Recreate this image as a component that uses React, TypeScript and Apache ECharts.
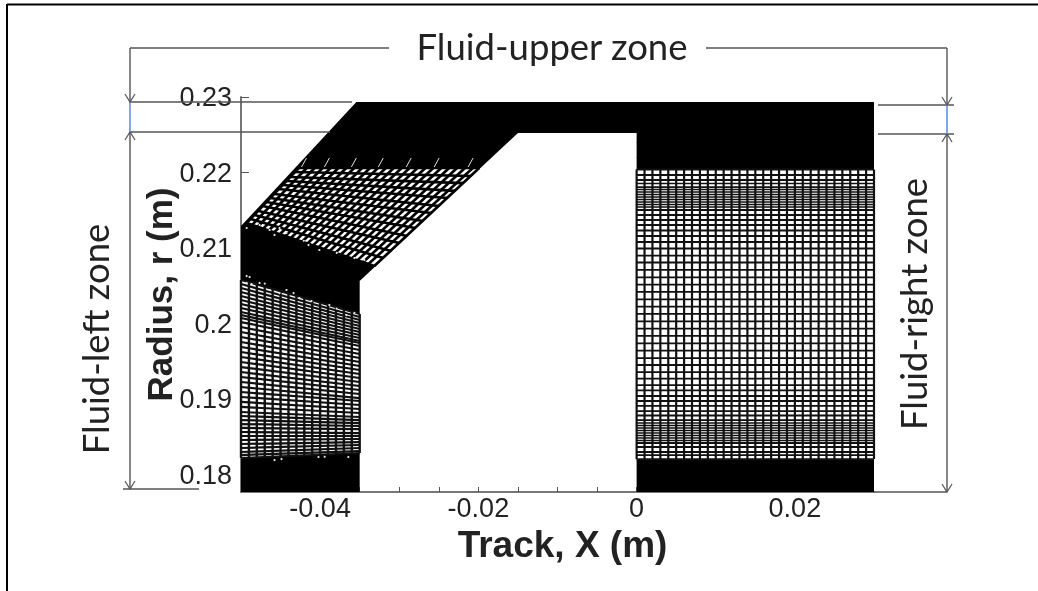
import React, { useEffect, useRef } from "react";
import * as echarts from "echarts";

// Axis ticks and labels
const radiusLabels = [0.18, 0.19, 0.2, 0.21, 0.22, 0.23];
const radiusMinorTicks = [0.178, 0.182, 0.184, 0.186, 0.188, 0.192, 0.194, 0.196, 0.198, 0.202, 0.204, 0.206, 0.208, 0.212, 0.214, 0.216, 0.218, 0.222, 0.224, 0.226, 0.228];
const trackLabels = [-0.04, -0.02, 0, 0.02];
const trackTicks = [-0.035, -0.03, -0.025, -0.02, -0.015, -0.01, -0.005, 0];

// Fluid domain outline [track, radius]
const fluidOutline = [[-0.05, 0.17775], [-0.035, 0.17775], [-0.035, 0.20566], [-0.015, 0.22524], [0, 0.22524], [0, 0.17775], [0.03, 0.17775], [0.03, 0.22934], [-0.03542, 0.22934], [-0.05, 0.21294]];
const rightOpen = [[0, 0.18211], [0.03, 0.18211], [0.03, 0.22041], [0, 0.22041]];
const leftOpen = [[-0.05, 0.18225], [-0.035, 0.18291], [-0.035, 0.2013], [-0.05, 0.20579]];
const upperOpen = [[-0.04273, 0.22061], [-0.01992, 0.22061], [-0.03315, 0.20765], [-0.04929, 0.21333]];

// Right block mesh: rows in the open middle, rows in the fine bands, columns
const rightRowsOpen = [0.22041, 0.21968, 0.21902, 0.21809, 0.21505, 0.21439, 0.21373, 0.21307, 0.21234, 0.21161, 0.21082, 0.20996, 0.20903, 0.20811, 0.20712, 0.20615, 0.20518, 0.20421, 0.20324, 0.20227, 0.2013, 0.20033, 0.19936, 0.19839, 0.19742, 0.19645, 0.19547, 0.19455, 0.19362, 0.19276, 0.1919, 0.19118, 0.19045, 0.18979, 0.18913, 0.18846, 0.18787, 0.18727, 0.18423, 0.1837, 0.18304, 0.18264, 0.18211];
const rightRowsFine = [0.21856, 0.21776, 0.21743, 0.2171, 0.21677, 0.21644, 0.21611, 0.21578, 0.21545, 0.18688, 0.18655, 0.18622, 0.18589, 0.18555, 0.18522, 0.18489, 0.18456];
const rightColumns = [0, 0.001, 0.002, 0.003, 0.004, 0.005, 0.006, 0.007, 0.008, 0.009, 0.01, 0.011, 0.012, 0.013, 0.014, 0.015, 0.016, 0.017, 0.018, 0.019, 0.02, 0.021, 0.022, 0.023, 0.024, 0.025, 0.026, 0.027, 0.028, 0.029, 0.03];

// Left lower block mesh
const leftRowStart = [0.20579, 0.20526, 0.20473, 0.2042, 0.20367, 0.20315, 0.20262, 0.20209, 0.20156, 0.20116, 0.20077, 0.20023, 0.19957, 0.19891, 0.19825, 0.19759, 0.19693, 0.19627, 0.19561, 0.19495, 0.19428, 0.19362, 0.19296, 0.1923, 0.19164, 0.19098, 0.19032, 0.18966, 0.189, 0.18833, 0.1878, 0.18727, 0.18674, 0.18622, 0.18569, 0.18516, 0.18463, 0.1841, 0.18357, 0.18304, 0.18264, 0.18225];
const leftRowEnd = [0.2013, 0.2009, 0.2005, 0.2001, 0.19971, 0.19931, 0.19891, 0.19852, 0.19812, 0.19772, 0.19746, 0.19706, 0.19653, 0.196, 0.19547, 0.19495, 0.19442, 0.19389, 0.19336, 0.19283, 0.1923, 0.19177, 0.19124, 0.19071, 0.19018, 0.18979, 0.18926, 0.18873, 0.1882, 0.18767, 0.18727, 0.18687, 0.18648, 0.18608, 0.18555, 0.18516, 0.18476, 0.18436, 0.18397, 0.18357, 0.18317, 0.18291];
const leftColumns = [-0.05, -0.049, -0.048, -0.047, -0.046, -0.045, -0.044, -0.043, -0.042, -0.041, -0.04, -0.039, -0.038, -0.037, -0.036, -0.035];
const leftColumnTop = [0.20579, 0.20549, 0.20519, 0.20489, 0.20459, 0.20429, 0.20399, 0.20369, 0.20339, 0.20309, 0.20279, 0.20249, 0.20219, 0.2019, 0.2016, 0.2013];
const leftColumnBottom = [0.18225, 0.18229, 0.18234, 0.18238, 0.18243, 0.18247, 0.18251, 0.18256, 0.1826, 0.18265, 0.18269, 0.18273, 0.18278, 0.18282, 0.18287, 0.18291];

// Slanted upper block mesh
const upperRowStartX = [-0.04273, -0.04324, -0.04374, -0.04425, -0.04475, -0.04525, -0.04576, -0.04626, -0.04677, -0.04727, -0.04777, -0.04828, -0.04878, -0.04929];
const upperRowStartR = [0.22061, 0.22008, 0.21942, 0.21889, 0.21836, 0.21783, 0.21717, 0.21664, 0.21611, 0.21558, 0.21492, 0.21439, 0.21386, 0.21333];
const upperRowEndX = [-0.01992, -0.02093, -0.02193, -0.02294, -0.02395, -0.02496, -0.02597, -0.02698, -0.02798, -0.02899, -0.03, -0.03101, -0.03202, -0.03315];
const upperRowEndR = [0.22061, 0.21955, 0.21862, 0.21757, 0.21664, 0.21558, 0.21466, 0.2136, 0.21267, 0.21161, 0.21069, 0.20963, 0.2087, 0.20765];
const upperColTopX = [-0.0427, -0.0417, -0.0407, -0.0397, -0.0387, -0.0377, -0.0367, -0.0357, -0.0347, -0.0337, -0.0327, -0.0317, -0.0307, -0.0297, -0.0287, -0.0277, -0.0267, -0.0257, -0.0247, -0.0237, -0.0227, -0.0217, -0.0207, -0.0199];
const upperColTopR = 0.22061;
const upperColBottomX = [-0.04929, -0.04859, -0.04789, -0.04719, -0.04649, -0.04579, -0.04509, -0.04439, -0.04369, -0.04299, -0.04229, -0.04159, -0.04089, -0.04019, -0.03949, -0.03879, -0.03809, -0.03739, -0.03669, -0.03599, -0.03529, -0.03459, -0.03389, -0.03315];
const upperColBottomR = [0.21333, 0.21308, 0.21284, 0.21259, 0.21234, 0.2121, 0.21185, 0.2116, 0.21135, 0.21111, 0.21086, 0.21061, 0.21037, 0.21012, 0.20987, 0.20963, 0.20938, 0.20913, 0.20888, 0.20864, 0.20839, 0.20814, 0.2079, 0.20765];

// White hook marks above the slanted block [x1, r1, x2, r2]
const hookMarks = [[-0.04235, 0.22074, -0.04172, 0.22193], [-0.03946, 0.22074, -0.03883, 0.22193], [-0.03605, 0.22074, -0.03542, 0.22193], [-0.03265, 0.22074, -0.03202, 0.22193], [-0.02912, 0.22074, -0.02849, 0.22193], [-0.02559, 0.22074, -0.02496, 0.22193], [-0.0213, 0.22074, -0.02067, 0.22193]];

// Stray mesh nodes visible inside the black bands [x, r]
const strayNodes = [[-0.04929, 0.20632], [-0.04891, 0.20619], [-0.04929, 0.2054], [-0.04866, 0.20526], [-0.04765, 0.2054], [-0.04702, 0.2054], [-0.04425, 0.20447], [-0.04336, 0.20407], [-0.04639, 0.20447], [-0.04513, 0.20407], [-0.04261, 0.20341], [-0.04109, 0.20301], [-0.03883, 0.20249], [-0.03794, 0.20209], [-0.03668, 0.20116], [-0.03567, 0.20143], [-0.04576, 0.18198], [-0.04488, 0.18211], [-0.04021, 0.18238], [-0.03946, 0.18251], [-0.03643, 0.18238], [-0.04929, 0.21267], [-0.04765, 0.21307], [-0.04639, 0.21241], [-0.04576, 0.21175], [-0.04513, 0.21267], [-0.04425, 0.21201], [-0.0421, 0.21108], [-0.04147, 0.21042], [-0.04009, 0.20976], [-0.03794, 0.2095], [-0.03567, 0.2087], [-0.03441, 0.20844]];

const rows = (list: number[]) => list.map((r) => [0, r, 0.03, r]);
const rightColumnSegments = rightColumns.map((x) => [x, 0.18211, x, 0.22041]);
const leftRowSegments = leftRowStart.map((r, i) => [-0.05, r, -0.035, leftRowEnd[i]]);
const leftColumnSegments = leftColumns.map((x, i) => [x, leftColumnTop[i], x, leftColumnBottom[i]]);
const upperSegments = [
  ...upperRowStartX.map((x, i) => [x, upperRowStartR[i], upperRowEndX[i], upperRowEndR[i]]),
  ...upperColTopX.map((x, i) => [x, upperColTopR, upperColBottomX[i], upperColBottomR[i]]),
];

const polygonSeries = (points: number[][], fill: string) => ({
  type: "custom",
  coordinateSystem: "cartesian2d",
  silent: true,
  data: [points[0]],
  renderItem: (_: any, api: any) => ({
    type: "polygon",
    shape: { points: points.map((p) => api.coord(p)) },
    style: { fill, stroke: "none" },
  }),
});

const segmentSeries = (data: number[][], stroke: string, lineWidth: number) => ({
  type: "custom",
  coordinateSystem: "cartesian2d",
  silent: true,
  data,
  renderItem: (_: any, api: any) => {
    const a = api.coord([api.value(0), api.value(1)]);
    const b = api.coord([api.value(2), api.value(3)]);
    return {
      type: "line",
      shape: { x1: a[0], y1: a[1], x2: b[0], y2: b[1] },
      style: { stroke, lineWidth },
    };
  },
});

const dotSeries = (data: number[][]) => ({
  type: "custom",
  coordinateSystem: "cartesian2d",
  silent: true,
  data,
  renderItem: (_: any, api: any) => {
    const c = api.coord([api.value(0), api.value(1)]);
    return { type: "circle", shape: { cx: c[0], cy: c[1], r: 1.1 }, style: { fill: "#e0e0e0" } };
  },
});

const ink = "#555555";
const rule = (x1: number, y1: number, x2: number, y2: number, stroke = ink, lineWidth = 1.4) => ({
  type: "line",
  shape: { x1, y1, x2, y2 },
  style: { stroke, lineWidth },
  z: 20,
});
const head = (x: number, y: number, dir: number) => ({
  type: "polyline",
  shape: { points: [[x - 5, y - 8 * dir], [x, y], [x + 5, y - 8 * dir]] },
  style: { stroke: ink, lineWidth: 1.2, fill: "none" },
  z: 20,
});
const zoneText = (text: string, x: number, y: number, rotation: number) => ({
  type: "text",
  x,
  y,
  rotation,
  z: 21,
  style: {
    text,
    fill: "#222222",
    font: "36.5px Lato, sans-serif",
    align: "center",
    verticalAlign: "middle",
  },
});

export default function App() {
  const ref = useRef<HTMLDivElement>(null);
  useEffect(() => {
    document.body.style.margin = "0";
    const chart = echarts.init(ref.current!, undefined, { renderer: "svg" });
    chart.setOption({
      animation: false,
      backgroundColor: "#ffffff",
      grid: { left: 241, top: 97, width: 633, height: 395 },
      xAxis: {
        type: "value",
        min: -0.05,
        max: 0.03,
        splitLine: { show: false },
        axisLine: { onZero: false, lineStyle: { color: "#777777", width: 2 } },
        axisTick: { inside: true, length: 5, lineStyle: { color: "#555555" }, customValues: trackTicks },
        axisLabel: { customValues: trackLabels, margin: 2, color: "#222222", fontFamily: "Liberation Sans", fontSize: 27 },
        name: "Track, X (m)",
        nameLocation: "middle",
        nameGap: 33,
        nameTextStyle: { fontFamily: "Liberation Sans", fontWeight: "bold", fontSize: 37, color: "#222222", padding: [0, 0, 0, 10] },
      },
      yAxis: [
        {
          type: "value",
          min: 0.17775,
          max: 0.23,
          splitLine: { show: false },
          axisLine: { onZero: false, lineStyle: { color: "#777777", width: 2 } },
          axisTick: { show: true, inside: true, length: 8, lineStyle: { color: "#555555" }, customValues: radiusLabels },
          axisLabel: { customValues: radiusLabels, margin: 9, color: "#222222", fontFamily: "Liberation Sans", fontSize: 27 },
          name: "Radius, r (m)",
          nameLocation: "middle",
          nameMoveOverlap: false,
          nameGap: 64,
          nameTextStyle: { fontFamily: "Liberation Sans", fontWeight: "bold", fontSize: 35, color: "#222222" },
        },
        {
          type: "value",
          min: 0.17775,
          max: 0.23,
          position: "left",
          splitLine: { show: false },
          axisLine: { show: false },
          axisTick: { show: true, inside: true, length: 5, lineStyle: { color: "#555555" }, customValues: radiusMinorTicks },
          axisLabel: { show: false },
        },
      ],
      series: [
        polygonSeries(fluidOutline, "#000000"),
        polygonSeries(rightOpen, "#ffffff"),
        polygonSeries(leftOpen, "#ffffff"),
        polygonSeries(upperOpen, "#ffffff"),
        segmentSeries(rows(rightRowsOpen), "#111111", 1.8),
        segmentSeries(rows(rightRowsFine), "#111111", 1.4),
        segmentSeries(rightColumnSegments, "#111111", 2.2),
        segmentSeries(leftRowSegments, "#111111", 2.2),
        segmentSeries(leftColumnSegments, "#111111", 2.4),
        segmentSeries(upperSegments, "#000000", 2.7),
        segmentSeries(hookMarks, "#e0e0e0", 1),
        dotSeries(strayNodes),
      ],
      graphic: [
        rule(7, 4.5, 1038, 4.5, "#000000", 2),
        rule(7, 4, 7, 591, "#000000", 2),
        rule(130, 48, 389, 48),
        rule(706, 48, 947, 48),
        rule(130, 48, 130, 102),
        rule(947, 48, 947, 105),
        rule(130, 102, 352, 102),
        rule(130, 132, 330, 132),
        rule(130, 102, 130, 132, "#7fa8e8", 2),
        rule(130, 132, 130, 489),
        rule(123, 489, 199, 489),
        rule(878, 105, 954, 105),
        rule(878, 134, 954, 134),
        rule(947, 105, 947, 134, "#7fa8e8", 2),
        rule(947, 134, 947, 492),
        rule(874, 492, 947, 492),
        head(130, 102, 1),
        head(130, 132, -1),
        head(130, 489, 1),
        head(947, 105, 1),
        head(947, 134, -1),
        head(947, 492, 1),
        zoneText("Fluid-upper zone", 552, 46, 0),
        zoneText("Fluid-left zone", 95, 339, Math.PI / 2),
        zoneText("Fluid-right zone", 913, 304, Math.PI / 2),
      ],
    });
    return () => chart.dispose();
  }, []);
  return <div ref={ref} style={{ width: 1038, height: 591, filter: "blur(0.6px)" }} />;
}
